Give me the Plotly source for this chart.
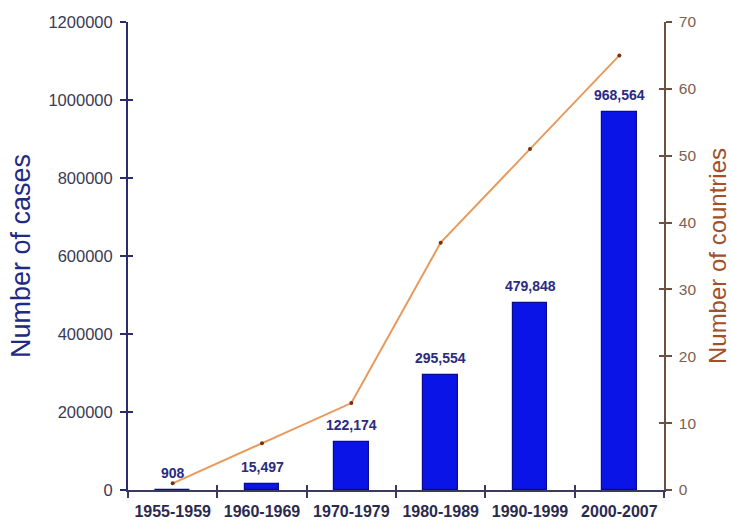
import plotly.graph_objects as go

periods = ["1955-1959", "1960-1969", "1970-1979", "1980-1989", "1990-1999", "2000-2007"]
cases = [908, 15497, 122174, 295554, 479848, 968564]
countries = [1, 7, 13, 37, 51, 65]

navy = "#2b2b6e"
brown = "#a0502a"
rcol = "#6e5040"

fig = go.Figure()
fig.add_trace(go.Bar(
    x=periods, y=cases, width=0.385,
    marker=dict(color="#0a14e6", line=dict(color="#0a0a90", width=1.2)),
    yaxis="y", showlegend=False, hoverinfo="skip"
))
fig.add_trace(go.Scatter(
    x=periods, y=countries, mode="lines+markers",
    line=dict(color="#e89a5c", width=2),
    marker=dict(color="#7a3010", size=4),
    yaxis="y2", showlegend=False, hoverinfo="skip"
))
# empty helper traces so the inner-tick overlay axes are drawn (crossing "+" ticks)
fig.add_trace(go.Scatter(x=[], y=[], xaxis="x2", yaxis="y3", showlegend=False, hoverinfo="skip"))
fig.add_trace(go.Scatter(x=[], y=[], xaxis="x2", yaxis="y4", showlegend=False, hoverinfo="skip"))

for p, c in zip(periods, cases):
    fig.add_annotation(
        x=p, y=c, xref="x", yref="y", text=f"{c:,}",
        showarrow=False, yanchor="bottom", yshift=7,
        font=dict(family="Liberation Sans", size=14, color="#2a2a80", weight="bold")
    )

n = len(periods)
fig.update_layout(
    width=731, height=524,
    margin=dict(l=128, r=67, t=22, b=34),
    paper_bgcolor="white", plot_bgcolor="white",
    bargap=0,
    xaxis=dict(
        type="category", range=[-0.5, n - 0.5], automargin=False,
        showline=True, linecolor="#3a3a5e", linewidth=2,
        ticks="outside", ticklen=6, tickwidth=2, tickcolor="#3a3a5e",
        tickson="boundaries", showgrid=False, zeroline=False,
        ticklabelstandoff=6, tickangle=0,
        tickfont=dict(family="Liberation Sans", size=16, color="#2a2a50", weight="bold"),
    ),
    xaxis2=dict(
        overlaying="x", anchor="y", range=[-0.5, n - 0.5], automargin=False,
        tickmode="linear", tick0=-0.5, dtick=1,
        ticks="inside", ticklen=5, tickwidth=2, tickcolor="#3a3a5e",
        showticklabels=False, showline=False, showgrid=False, zeroline=False,
    ),
    yaxis=dict(
        range=[0, 1200000], dtick=200000, tickformat="d", automargin=False,
        showline=True, linecolor=navy, linewidth=2,
        ticks="outside", ticklen=6, tickwidth=2, tickcolor=navy,
        showgrid=False, zeroline=False, ticklabelstandoff=4,
        tickfont=dict(family="Liberation Sans", size=16.5, color="#3a3a55"),
        title=dict(text="Number of cases", standoff=10,
                   font=dict(family="Liberation Sans", size=27, color="#1f2a85")),
    ),
    yaxis3=dict(
        overlaying="y", anchor="x2", side="left", range=[0, 1200000], dtick=200000,
        automargin=False,
        ticks="inside", ticklen=5, tickwidth=2, tickcolor=navy,
        showticklabels=False, showline=False, showgrid=False, zeroline=False,
    ),
    yaxis2=dict(
        range=[0, 70], dtick=10, overlaying="y", side="right", automargin=False,
        showline=True, linecolor=rcol, linewidth=1.5,
        ticks="outside", ticklen=6, tickwidth=1.5, tickcolor=rcol,
        showgrid=False, zeroline=False, ticklabelstandoff=4,
        tickfont=dict(family="Liberation Sans", size=15.5, color="#7e5e4e"),
        title=dict(text="Number of countries", standoff=14,
                   font=dict(family="Liberation Sans", size=24, color=brown)),
    ),
    yaxis4=dict(
        overlaying="y", anchor="x2", side="right", range=[0, 70], dtick=10,
        automargin=False,
        ticks="inside", ticklen=5, tickwidth=1.5, tickcolor=rcol,
        showticklabels=False, showline=False, showgrid=False, zeroline=False,
    ),
)

fig.write_html("out.html")
